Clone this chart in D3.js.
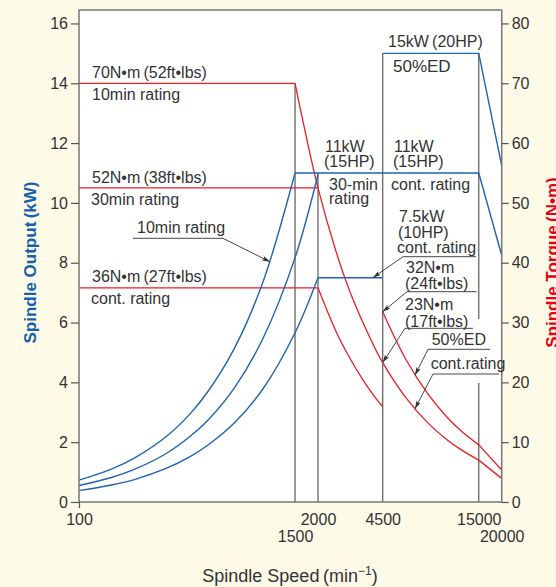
<!DOCTYPE html>
<html>
<head>
<meta charset="utf-8">
<script src="https://cdn.jsdelivr.net/npm/d3@7"></script>
<style>
  body { margin: 0; background: #fdfae8; }
  svg { display: block; font-family: "Liberation Sans", Arial, Helvetica, sans-serif; }
</style>
</head>
<body>
<div id="chart"></div>
<script>
// speed ticks (min-1)
var speedTicks = [100, 1500, 2000, 4500, 15000, 20000];
var speedTickRow = [0, 1, 0, 0, 0, 1];
var outputTicks = [0, 2, 4, 6, 8, 10, 12, 14, 16];
var torqueTicks = [0, 10, 20, 30, 40, 50, 60, 70, 80];

// spindle output (kW), [speed, kW]
var output10min = [[100, 0.73], [150, 1.10], [200, 1.47], [300, 2.20], [400, 2.93], [500, 3.67], [700, 5.13], [1000, 7.33], [1500, 11.0]];
var output30min = [[100, 0.55], [150, 0.82], [200, 1.09], [300, 1.63], [400, 2.18], [500, 2.72], [700, 3.81], [1000, 5.45], [1500, 8.17], [2000, 10.95]];
var outputCont = [[100, 0.38], [150, 0.57], [200, 0.75], [300, 1.13], [400, 1.51], [500, 1.89], [700, 2.64], [1000, 3.77], [1500, 5.66], [2000, 7.5]];
var output11kW = [[1500, 11.0], [15000, 11.0], [20000, 8.25]];
var output75kW = [[2000, 7.5], [4500, 7.5]];
var output15kW = [[4500, 15.0], [15000, 15.0], [20000, 11.25]];

// spindle torque (N·m), [speed, N·m]
var torque70 = [[100, 70], [1500, 70]];
var torque52 = [[100, 52.5], [2000, 52.5]];
var torque36 = [[100, 35.8], [2000, 35.8]];
var torque11kW = [[1500, 70], [2000, 52.5], [2500, 42.0], [3000, 35.0], [4000, 26.3], [4500, 23.3], [6000, 17.5], [8000, 13.1], [10000, 10.5], [12000, 8.75], [15000, 7.0]];
var torque11kWTail = [[15000, 7.0], [20000, 3.95]];
var torque75kW = [[2000, 35.8], [2500, 28.6], [3000, 23.9], [3500, 20.5], [4000, 17.9], [4500, 15.9]];
var torque15kW = [[4500, 31.8], [6000, 23.9], [8000, 17.9], [10000, 14.3], [12000, 11.9], [15000, 9.55]];
var torque15kWTail = [[15000, 9.55], [20000, 5.35]];

// gray speed marks: [speed, top in kW]
var speedMarks = [[1500, 14.0], [2000, 11.0], [4500, 15.0], [15000, 15.0]];

var width = 556, height = 587;
var plot = { left: 79, right: 501.7, top: 10, bottom: 502 };
var BLUE = "#1f64b0", RED = "#ec1c24", GRAY = "#666", TXT = "#333";

var x = d3.scaleLog().domain([100, 20000]).range([plot.left, plot.right]);
var yKW = d3.scaleLinear().domain([0, 16.45]).range([plot.bottom, plot.top]);
var yNm = d3.scaleLinear().domain([0, 82.25]).range([plot.bottom, plot.top]);

var svg = d3.select("#chart").append("svg")
  .attr("width", width)
  .attr("height", height);

svg.append("rect").attr("width", width).attr("height", height).attr("fill", "#fdfae8");

svg.append("rect")
  .attr("x", plot.left).attr("y", plot.top)
  .attr("width", plot.right - plot.left).attr("height", plot.bottom - plot.top)
  .attr("fill", "#fff");

// vertical speed lines
svg.selectAll(".mark").data(speedMarks).enter()
  .append("line")
  .attr("x1", function(d) { return x(d[0]); })
  .attr("x2", function(d) { return x(d[0]); })
  .attr("y1", plot.bottom)
  .attr("y2", function(d) { return yKW(d[1]); })
  .attr("stroke", GRAY).attr("stroke-width", 1.3);

// label background cutting the 15000 line
svg.append("rect")
  .attr("x", x(15000) - 4).attr("y", 319)
  .attr("width", 8).attr("height", 64)
  .attr("fill", "#fff");

var smooth = function(sc) {
  return d3.line().x(function(d) { return x(d[0]); }).y(function(d) { return sc(d[1]); }).curve(d3.curveCatmullRom);
};
var straight = function(sc) {
  return d3.line().x(function(d) { return x(d[0]); }).y(function(d) { return sc(d[1]); });
};

function draw(data, gen, color, w) {
  svg.append("path").attr("d", gen(data))
    .attr("fill", "none").attr("stroke", color).attr("stroke-width", w);
}

// torque (red)
[torque70, torque52, torque36, torque11kWTail, torque15kWTail].forEach(function(s) { draw(s, straight(yNm), RED, 1.3); });
[torque11kW, torque75kW, torque15kW].forEach(function(s) { draw(s, smooth(yNm), RED, 1.3); });

// output (blue)
[output10min, output30min, outputCont].forEach(function(s) { draw(s, smooth(yKW), BLUE, 1.4); });
[output11kW, output75kW, output15kW].forEach(function(s) { draw(s, straight(yKW), BLUE, 1.4); });

// frame
svg.append("rect")
  .attr("x", plot.left).attr("y", plot.top)
  .attr("width", plot.right - plot.left).attr("height", plot.bottom - plot.top)
  .attr("fill", "none").attr("stroke", "#777").attr("stroke-width", 1.5);

// axes
var gl = svg.append("g").attr("transform", "translate(" + plot.left + ",0)")
  .call(d3.axisLeft(yKW).tickValues(outputTicks).tickSize(8).tickPadding(3));
var gr = svg.append("g").attr("transform", "translate(" + plot.right + ",0)")
  .call(d3.axisRight(yNm).tickValues(torqueTicks).tickSize(7).tickPadding(3));
var gb = svg.append("g").attr("transform", "translate(0," + plot.bottom + ")")
  .call(d3.axisBottom(x).tickValues(speedTicks).tickFormat(d3.format("d")).tickSize(6).tickPadding(6));

[gl, gr, gb].forEach(function(g) {
  g.select(".domain").remove();
  g.selectAll(".tick line").attr("stroke", "#555").attr("stroke-width", 1.2);
  g.selectAll(".tick text").attr("fill", TXT).style("font-size", "16px")
    .style("font-family", "'Liberation Sans', Arial, Helvetica, sans-serif");
});
gb.selectAll(".tick line").attr("y2", function(d) { return d === 100 ? 6 : 0; });
gb.selectAll(".tick text").attr("y", function(d, i) { return speedTickRow[i] ? 29 : 12; });

// axis titles
svg.append("text")
  .attr("transform", "translate(36,262.5) rotate(-90)")
  .attr("text-anchor", "middle").attr("fill", "#1560ac")
  .style("font-size", "17px").style("font-weight", "bold")
  .text("Spindle Output\u2009(kW)");
svg.append("text")
  .attr("transform", "translate(557.5,262.5) rotate(-90)")
  .attr("text-anchor", "middle").attr("fill", "#e60012")
  .style("font-size", "17px").style("font-weight", "bold")
  .text("Spindle Torque\u2009(N\u2022m)");
svg.append("text")
  .attr("x", 290).attr("y", 582)
  .attr("text-anchor", "middle").attr("fill", TXT)
  .style("font-size", "18px")
  .html("Spindle Speed\u2009(min<tspan dy='-7' style='font-size:12px'>\u22121</tspan><tspan dy='7'>)</tspan>");

// annotation texts
var labels = [
  [92, 78, "70N\u2022m\u2009(52ft\u2022lbs)"],
  [92, 100, "10min rating"],
  [92, 183, "52N\u2022m\u2009(38ft\u2022lbs)"],
  [91, 205, "30min rating"],
  [92, 282, "36N\u2022m\u2009(27ft\u2022lbs)"],
  [91, 304, "cont. rating"],
  [137, 233, "10min rating"],
  [388, 46.7, "15kW\u2009(20HP)"],
  [325, 151.7, "11kW"],
  [324, 166.7, "(15HP)"],
  [394, 151.7, "11kW"],
  [393, 166.7, "(15HP)"],
  [329, 190, "30-min"],
  [329, 204, "rating"],
  [391, 190, "cont. rating"],
  [399, 222, "7.5kW"],
  [398, 237.5, "(10HP)"],
  [397, 252.5, "cont. rating"],
  [406, 273.3, "32N\u2022m"],
  [405, 289, "(24ft\u2022lbs)"],
  [405, 310, "23N\u2022m"],
  [405, 326.7, "(17ft\u2022lbs)"],
  [431.7, 345, "50%ED"],
  [430.7, 369, "cont.rating"]
];
svg.selectAll(".lbl").data(labels).enter()
  .append("text")
  .attr("x", function(d) { return d[0]; })
  .attr("y", function(d) { return d[1]; })
  .attr("fill", TXT).style("font-size", "16px")
  .text(function(d) { return d[2]; });

svg.append("text").attr("x", 393).attr("y", 72)
  .attr("fill", TXT).style("font-size", "17px").text("50%ED");

// leader arrows: underline from x0..x1 at y, then to target
svg.append("defs").append("marker")
  .attr("id", "ah").attr("viewBox", "0 0 10 6")
  .attr("refX", 10).attr("refY", 3)
  .attr("markerWidth", 8).attr("markerHeight", 5)
  .attr("markerUnits", "userSpaceOnUse")
  .attr("orient", "auto")
  .append("path").attr("d", "M0,0L10,3L0,6L2,3Z").attr("fill", "#333");

var leaders = [
  [223, 133, 238.3, x(1096), yKW(8.03)],
  [476, 403, 256.7, x(3980), yKW(7.5)],
  [476.7, 407, 291.7, x(4500), yNm(31.8)],
  [473, 405, 328.3, x(4500), yNm(23.3)],
  [490, 428, 349.3, x(6745), yNm(21.2)],
  [499, 433, 374, x(6745), yNm(15.6)]
];
leaders.forEach(function(l) {
  if (l === leaders[0]) {
    svg.append("path")
      .attr("d", "M" + l[1] + "," + l[2] + "L" + l[0] + "," + l[2] + "L" + l[3] + "," + l[4])
      .attr("fill", "none").attr("stroke", "#333").attr("stroke-width", 0.9)
      .attr("marker-end", "url(#ah)");
  } else {
    svg.append("path")
      .attr("d", "M" + l[0] + "," + l[2] + "L" + l[1] + "," + l[2] + "L" + l[3] + "," + l[4])
      .attr("fill", "none").attr("stroke", "#333").attr("stroke-width", 0.9)
      .attr("marker-end", "url(#ah)");
  }
});
</script>
</body>
</html>
